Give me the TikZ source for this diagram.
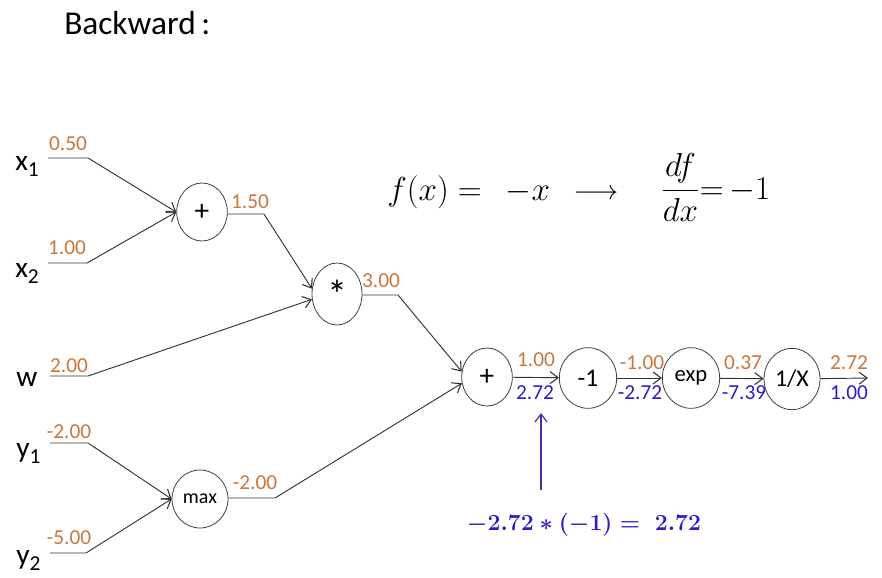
\documentclass[tikz,border=0pt]{standalone}
\usepackage[no-math]{fontspec}
\setmainfont{Carlito}
\usetikzlibrary{shapes.geometric,arrows.meta}
\definecolor{lblorange}{RGB}{200,120,60}
\definecolor{lblblue}{RGB}{40,30,200}
\definecolor{arrblue}{RGB}{60,50,170}
\newcommand\inlab[2]{#1\raisebox{-5pt}{\fontsize{16}{16}\selectfont #2}}
\newcommand\notetext{$-2.72 * (-1) =\; 2.72$}
\begin{document}
\begin{tikzpicture}[x=0.75pt,y=-0.75pt,
  gate/.style={draw=black!75,ellipse,inner sep=0pt,line width=0.6pt},
  wire/.style={draw=black!80,line width=0.7pt},
  arr/.style={wire,-{Straight Barb[length=6pt,width=9pt,line width=0.8pt]}},
  fwd/.style={text=lblorange,font=\fontsize{16}{16}\selectfont,inner sep=0pt},
  bwd/.style={text=lblblue,font=\fontsize{16}{16}\selectfont,inner sep=0pt},
  inp/.style={font=\fontsize{22}{22}\selectfont,anchor=base west,inner sep=0pt}]
\useasboundingbox (0,0) rectangle (882,578);

\node[font=\fontsize{25}{25}\selectfont,anchor=base west,inner sep=0pt] (title) at (64,34) {Backward\,:};

% gates
\node[gate,minimum width=38pt,minimum height=43.5pt,font=\fontsize{22}{22}\selectfont] (p1) at (202,212) {+};
\node[gate,minimum width=37.5pt,minimum height=46.5pt,font=\fontsize{30}{30}\selectfont] (m) at (337,294) {\raisebox{-6pt}{*}};
\node[gate,minimum width=38pt,minimum height=43.5pt,font=\fontsize{22}{22}\selectfont] (p2) at (487,377) {+};
\node[gate,minimum width=43pt,minimum height=45.5pt,font=\fontsize{19}{19}\selectfont] (n1) at (588,378) {-1};
\node[gate,minimum width=43pt,minimum height=45.5pt,font=\fontsize{17}{17}\selectfont] (e) at (691,378) {exp};
\node[gate,minimum width=42pt,minimum height=46pt,font=\fontsize{18}{18}\selectfont] (r) at (792,379) {1/X};
\node[gate,minimum width=42pt,minimum height=43.5pt,font=\fontsize{15}{15}\selectfont] (mx) at (200,499) {max};

% inputs
\node[inp] (x1) at (15,170) {\inlab{x}{1}};
\node[inp] (x2) at (15,277) {\inlab{x}{2}};
\node[inp] (w) at (16,386) {w};
\node[inp] (y1) at (16,457) {\inlab{y}{1}};
\node[inp] (y2) at (16,564) {\inlab{y}{2}};

\coordinate (x1a) at (48,158); \coordinate (x1b) at (88,158);
\coordinate (x2a) at (48,263); \coordinate (x2b) at (87,263);
\coordinate (wa) at (50,376);  \coordinate (wb) at (88,376);
\coordinate (y1a) at (50,443); \coordinate (y1b) at (88,443);
\coordinate (y2a) at (50,553); \coordinate (y2b) at (86,553);
\coordinate (p1k) at (264,214);
\coordinate (mk) at (398,295);
\coordinate (mxk) at (275,498);
\coordinate (out) at (868,378);

\draw[arr] (x1a) -- (x1b) -- (p1.west);
\draw[arr] (x2a) -- (x2b) -- (p1.west);
\draw[arr] (p1.east |- p1k) -- (p1k) -- (m.168);
\draw[arr] (wa) -- (wb) -- (m.192);
\draw[arr] (m.east |- mk) -- (mk) -- (p2.168);
\draw[arr] (y1a) -- (y1b) -- (mx.west);
\draw[arr] (y2a) -- (y2b) -- (mx.west);
\draw[arr] (mx.east |- mxk) -- (mxk) -- (p2.194);
\draw[arr] (p2) -- (n1);
\draw[arr] (n1) -- (e);
\draw[arr] (e) -- (r);
\draw[arr] (r) -- (out);

% forward values
\node[fwd] (vx1) at (68,144) {0.50};
\node[fwd] (vx2) at (67,248) {1.00};
\node[fwd] (vp1) at (250,202) {1.50};
\node[fwd] (vw) at (69,366) {2.00};
\node[fwd] (vy1) at (69,432) {-2.00};
\node[fwd] (vy2) at (69,538) {-5.00};
\node[fwd] (vm) at (381,281) {3.00};
\node[fwd] (vmx) at (255,483) {-2.00};
\node[fwd] (vp2) at (536,360) {1.00};
\node[fwd] (vn1) at (642,363) {-1.00};
\node[fwd] (ve) at (743,363) {0.37};
\node[fwd] (vr) at (849,363) {2.72};
% backward values
\node[bwd] (gp2) at (535,393) {2.72};
\node[bwd] (gn1) at (640,393) {-2.72};
\node[bwd] (ge) at (744,393) {-7.39};
\node[bwd] (gr) at (849,393) {1.00};

% formula
\node[anchor=base west,inner sep=0pt,font=\fontsize{25}{25}\selectfont] (f1) at (387,200) {$f(x) =\;\, -x$};
\node[anchor=base,inner sep=0pt,font=\fontsize{20}{20}\selectfont] (f2) at (596,199) {$\longrightarrow$};
\node[anchor=base west,inner sep=0pt,font=\fontsize{23}{23}\selectfont] (f3) at (661,199) {$\displaystyle\frac{df}{dx}{=}\,{-1}$};

% blue note
\node[anchor=base,inner sep=0pt,text=lblblue,font=\fontsize{18.5}{18.5}\selectfont\boldmath] (note) at (584,530) {\notetext};
\coordinate (nt) at (541,490);
\coordinate (nh) at (541,413);
\draw[draw=arrblue,line width=0.9pt,-{Straight Barb[length=6pt,width=9pt,line width=0.9pt]}] (nt) -- (nh);
\end{tikzpicture}
\end{document}
